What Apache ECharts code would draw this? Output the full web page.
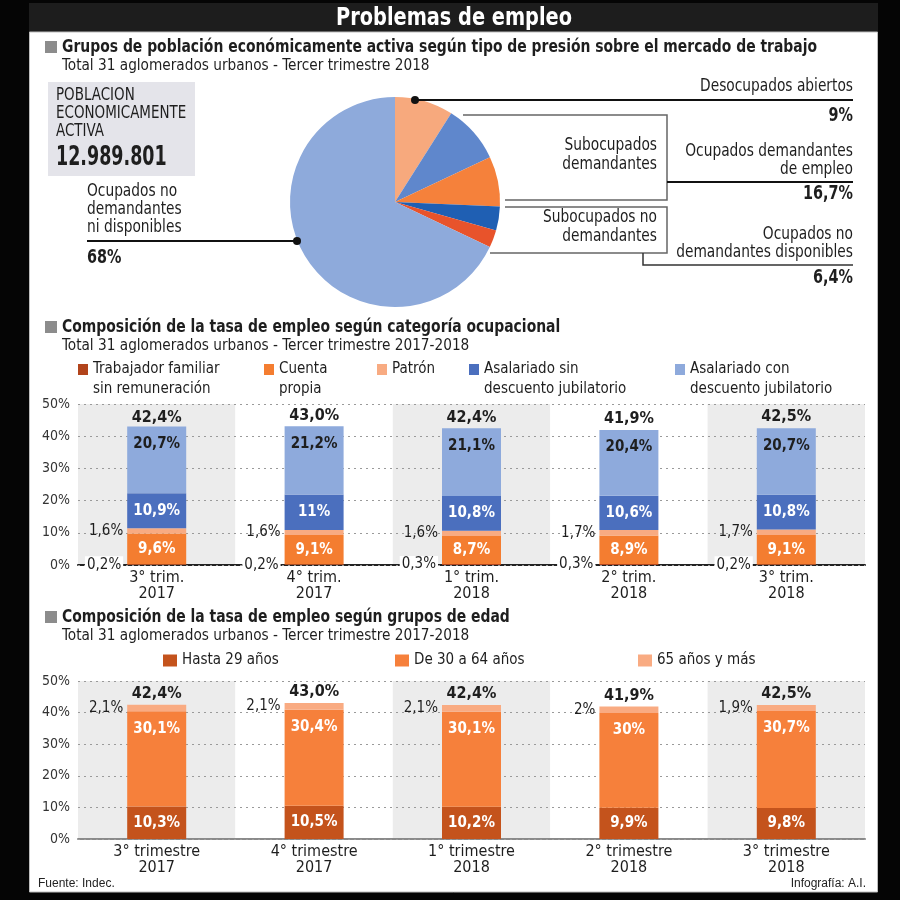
<!DOCTYPE html>
<html><head><meta charset="utf-8">
<script src="https://cdn.jsdelivr.net/npm/echarts@6/dist/echarts.min.js"></script>
<style>html,body{margin:0;padding:0;background:#000}#c{width:900px;height:900px}</style>
</head><body><div id="c"></div>
<script>
const F = '"Liberation Sans Narrow", "DejaVu Sans Condensed", "DejaVu Sans", sans-serif';

// ---------- data ----------
const pieNames = ['Desocupados abiertos', 'Subocupados demandantes', 'Otros ocupados demandantes',
  'Subocupados no demandantes', 'Otros ocupados no demandantes disponibles', 'Ocupados no demandantes ni disponibles'];
const pieValues = [9.0, 9.0, 7.7, 3.7, 2.7, 68.0];
const pieColors = ['#f7a97d', '#5f87cc', '#f5813b', '#1f5fb3', '#e8532b', '#8eaadb'];

const quarters1 = ['3° trim.\n2017', '4° trim.\n2017', '1° trim.\n2018', '2° trim.\n2018', '3° trim.\n2018'];
const quarters2 = ['3° trimestre\n2017', '4° trimestre\n2017', '1° trimestre\n2018', '2° trimestre\n2018', '3° trimestre\n2018'];

const catNames = ['Trabajador familiar\nsin remuneración', 'Cuenta\npropia', 'Patrón',
  'Asalariado sin\ndescuento jubilatorio', 'Asalariado con\ndescuento jubilatorio'];
const trabajadorFamiliar = [0.2, 0.2, 0.3, 0.3, 0.2];
const cuentaPropia = [9.6, 9.1, 8.7, 8.9, 9.1];
const patron = [1.6, 1.6, 1.6, 1.7, 1.7];
const asalariadoSin = [10.9, 11, 10.8, 10.6, 10.8];
const asalariadoCon = [20.7, 21.2, 21.1, 20.4, 20.7];
const totalEmpleo = [42.4, 43.0, 42.4, 41.9, 42.5];

const ageNames = ['Hasta 29 años', 'De 30 a 64 años', '65 años y más'];
const hasta29 = [10.3, 10.5, 10.2, 9.9, 9.8];
const de30a64 = [30.1, 30.4, 30.1, 30, 30.7];
const mas65 = [2.1, 2.1, 2.1, 2, 1.9];
const totalEdad = [42.4, 43.0, 42.4, 41.9, 42.5];

const yTicks = [0, 10, 20, 30, 40, 50];

// ---------- helpers ----------
const fmt = v => String(v).replace('.', ',') + '%';
const fmt1 = v => v.toFixed(1).replace('.', ',') + '%';
const BAR_W = 59;
const bandColors = ['#ececec', '#ffffff'];

function txt(text, x, y, size, opts) {
  opts = opts || {};
  return { type: 'text', z: 70, x: x, y: y, scaleX: opts.sx != null ? opts.sx : 0.9, scaleY: 1,
    style: {
      text: text, x: 0, y: 0,
      font: (opts.bold ? 'bold ' : '') + size + 'px ' + F,
      fill: opts.fill || '#1e1e1e', align: opts.align || 'left', verticalAlign: 'middle'
    } };
}
function line(points, w, color) {
  return { type: 'polyline', z: 50, shape: { points: points }, style: { stroke: color || '#111', lineWidth: w || 2, fill: null } };
}
function dot(x, y) {
  return { type: 'circle', z: 51, shape: { cx: x, cy: y, r: 4 }, style: { fill: '#111' } };
}

const insideLabel = { show: true, position: 'inside', color: '#fff', fontFamily: F, fontSize: 15, fontWeight: 'bold', formatter: p => fmt(p.value) };
const leftLabel = { show: true, position: 'left', distance: 4, color: '#1e1e1e', fontFamily: F, fontSize: 15, formatter: p => fmt(p.value) };
const totalLabel = { show: true, position: 'top', distance: 3, color: '#1e1e1e', fontFamily: F, fontSize: 16, fontWeight: 'bold', formatter: p => fmt1(p.value) };

function stackBar(name, data, color, label, xi, stack) {
  return { type: 'bar', name: name, xAxisIndex: xi, yAxisIndex: xi, stack: stack, data: data,
    barWidth: BAR_W, itemStyle: { color: color }, label: label, silent: true };
}
function totalBar(data, xi) {
  return { type: 'bar', xAxisIndex: xi, yAxisIndex: xi, data: data, barWidth: BAR_W, barGap: '-100%',
    itemStyle: { color: 'rgba(0,0,0,0)' }, label: totalLabel, silent: true, z: 5 };
}

function xAxisCfg(gi, data, lineColor) {
  return { gridIndex: gi, type: 'category', data: data, z: 0,
    axisTick: { show: false },
    axisLine: { lineStyle: { color: lineColor, width: 2 } },
    axisLabel: { color: '#1e1e1e', fontFamily: F, fontSize: 16, lineHeight: 16, margin: 5 },
    splitArea: { show: true, areaStyle: { color: bandColors } } };
}
function yAxisCfg(gi) {
  return { gridIndex: gi, type: 'value', z: 1, min: yTicks[0], max: yTicks[yTicks.length - 1], interval: yTicks[1] - yTicks[0],
    axisLine: { show: false }, axisTick: { show: false },
    axisLabel: { formatter: '{value}%', margin: 8, color: '#333', fontFamily: F, fontSize: 14 },
    splitLine: { lineStyle: { type: [2, 4], color: '#9a9a9a', width: 1.2 } } };
}

function legendItem(name, left, top, w, h, size) {
  return { data: [name], left: left, top: top, padding: 0, icon: 'rect', itemWidth: w, itemHeight: h, itemGap: 0,
    selectedMode: false, formatter: n => n.split('\n')[0],
    textStyle: { fontFamily: F, fontSize: size, color: '#1e1e1e' } };
}

// legend positions
const leg1X = [78, 264, 377, 469, 675];
const leg2X = [163, 395, 638];

const graphic = [];
// frame
graphic.push({ type: 'rect', z: 60, shape: { x: 0, y: 0, width: 900, height: 3 }, style: { fill: '#050505' } });
graphic.push({ type: 'rect', z: 60, shape: { x: 0, y: 0, width: 29, height: 900 }, style: { fill: '#050505' } });
graphic.push({ type: 'rect', z: 60, shape: { x: 878, y: 0, width: 22, height: 900 }, style: { fill: '#050505' } });
graphic.push({ type: 'rect', z: 60, shape: { x: 0, y: 892, width: 900, height: 8 }, style: { fill: '#050505' } });
graphic.push({ type: 'rect', z: 60, shape: { x: 29, y: 3, width: 849, height: 29 }, style: { fill: '#1d1d1d' } });
graphic.push({ type: 'rect', z: 61, shape: { x: 29.5, y: 32, width: 848, height: 860 }, style: { fill: null, stroke: '#bdbdbd', lineWidth: 1 } });
graphic.push(txt('Problemas de empleo', 454, 18, 25, { bold: true, fill: '#ffffff', align: 'center', sx: 0.86 }));

// section headers
function header(y, title, sub) {
  graphic.push({ type: 'rect', z: 50, shape: { x: 45, y: y - 6, width: 12, height: 12 }, style: { fill: '#8c8c8c' } });
  graphic.push(txt(title, 62, y, 18, { bold: true, sx: 0.86 }));
  graphic.push(txt(sub, 62, y + 19, 16, { sx: 0.95 }));
}
header(47, 'Grupos de población económicamente activa según tipo de presión sobre el mercado de trabajo', 'Total 31 aglomerados urbanos - Tercer trimestre 2018');
header(327, 'Composición de la tasa de empleo según categoría ocupacional', 'Total 31 aglomerados urbanos - Tercer trimestre 2017-2018');
header(617, 'Composición de la tasa de empleo según grupos de edad', 'Total 31 aglomerados urbanos - Tercer trimestre 2017-2018');

// PEA box
graphic.push({ type: 'rect', z: 40, shape: { x: 48, y: 82, width: 147, height: 94 }, style: { fill: '#e4e4ea' } });
graphic.push(txt('POBLACION', 56, 96, 17, { sx: 0.88 }));
graphic.push(txt('ECONOMICAMENTE', 56, 114, 17, { sx: 0.88 }));
graphic.push(txt('ACTIVA', 56, 132, 17, { sx: 0.88 }));
graphic.push(txt('12.989.801', 56, 158, 27, { bold: true, sx: 0.72 }));

// pie annotations
graphic.push(line([[415, 100], [853, 100]], 2));
graphic.push(dot(415, 100));
graphic.push(txt('Desocupados abiertos', 853, 87, 17, { align: 'right' }));
graphic.push(txt('9%', 853, 116, 20, { bold: true, align: 'right', sx: 0.8 }));

graphic.push(line([[463, 115], [667, 115], [667, 200], [505, 200]], 1.5, '#666'));
graphic.push(txt('Subocupados', 657, 146, 17, { align: 'right' }));
graphic.push(txt('demandantes', 657, 165, 17, { align: 'right' }));
graphic.push(line([[667, 182], [853, 182]], 2));
graphic.push(txt('Ocupados demandantes', 853, 152, 17, { align: 'right' }));
graphic.push(txt('de empleo', 853, 170, 17, { align: 'right' }));
graphic.push(txt('16,7%', 853, 194, 20, { bold: true, align: 'right', sx: 0.8 }));

graphic.push(line([[505, 207], [667, 207], [667, 253], [490, 253]], 1.5, '#666'));
graphic.push(txt('Subocupados no', 657, 218, 17, { align: 'right' }));
graphic.push(txt('demandantes', 657, 237, 17, { align: 'right' }));
graphic.push(line([[643, 253], [643, 265], [853, 265]], 1.5, '#333'));
graphic.push(txt('Ocupados no', 853, 235, 17, { align: 'right' }));
graphic.push(txt('demandantes disponibles', 853, 253, 17, { align: 'right' }));
graphic.push(txt('6,4%', 853, 278, 20, { bold: true, align: 'right', sx: 0.8 }));

graphic.push(line([[87, 241], [297, 241]], 2));
graphic.push(dot(297, 241));
graphic.push(txt('Ocupados no', 87, 192, 17));
graphic.push(txt('demandantes', 87, 210, 17));
graphic.push(txt('ni disponibles', 87, 228, 17));
graphic.push(txt('68%', 87, 258, 20, { bold: true, sx: 0.8 }));

// legend second lines
catNames.forEach((n, i) => {
  const parts = n.split('\n');
  if (parts[1]) graphic.push(txt(parts[1], leg1X[i] + 15, 389, 15, { sx: 1 }));
});

// footer
graphic.push({ type: 'text', z: 50, style: { text: 'Fuente: Indec.', x: 38, y: 884, font: '12px "Liberation Sans", Arial, sans-serif', fill: '#222', verticalAlign: 'middle' } });
graphic.push({ type: 'text', z: 50, style: { text: 'Infografía: A.I.', x: 866, y: 884, font: '12px "Liberation Sans", Arial, sans-serif', fill: '#222', align: 'right', verticalAlign: 'middle' } });

const trabData = trabajadorFamiliar.map(v => ({ value: v, label: { backgroundColor: '#ffffff', padding: [1, 2] } }));

const option = {
  backgroundColor: '#ffffff',
  animation: false,
  grid: [
    { left: 78, top: 404, width: 787, height: 161 },
    { left: 78, top: 681, width: 787, height: 158 }
  ],
  xAxis: [xAxisCfg(0, quarters1, '#222'), xAxisCfg(1, quarters2, '#8a8a8a')],
  yAxis: [yAxisCfg(0), yAxisCfg(1)],
  legend: [
    ...catNames.map((n, i) => legendItem(n, leg1X[i], 362, 10, 11, 15)),
    ...ageNames.map((n, i) => legendItem(n, leg2X[i], 653, 14, 12, 15))
  ],
  graphic: graphic,
  series: [
    { type: 'pie', center: [395, 202], radius: 105, startAngle: 90, clockwise: true, silent: true,
      label: { show: false }, labelLine: { show: false },
      data: pieNames.map((n, i) => ({ name: n, value: pieValues[i], itemStyle: { color: pieColors[i] } })) },

    stackBar(catNames[0], trabData, '#b2441b', leftLabel, 0, 'a'),
    stackBar(catNames[1], cuentaPropia, '#f47d30', insideLabel, 0, 'a'),
    stackBar(catNames[2], patron, '#f8ab82', leftLabel, 0, 'a'),
    stackBar(catNames[3], asalariadoSin, '#4b6fbe', insideLabel, 0, 'a'),
    stackBar(catNames[4], asalariadoCon, '#8eaadc', Object.assign({}, insideLabel, { position: 'insideTop', distance: 10, color: '#1e1e1e' }), 0, 'a'),
    totalBar(totalEmpleo, 0),

    stackBar(ageNames[0], hasta29, '#c4531c', insideLabel, 1, 'b'),
    stackBar(ageNames[1], de30a64, '#f6803b', Object.assign({}, insideLabel, { position: 'insideTop', distance: 10 }), 1, 'b'),
    stackBar(ageNames[2], mas65, '#f9ab82', leftLabel, 1, 'b'),
    totalBar(totalEdad, 1)
  ]
};

const chart = echarts.init(document.getElementById('c'), null, { renderer: 'canvas' });
chart.setOption(option);
</script>
</body></html>
